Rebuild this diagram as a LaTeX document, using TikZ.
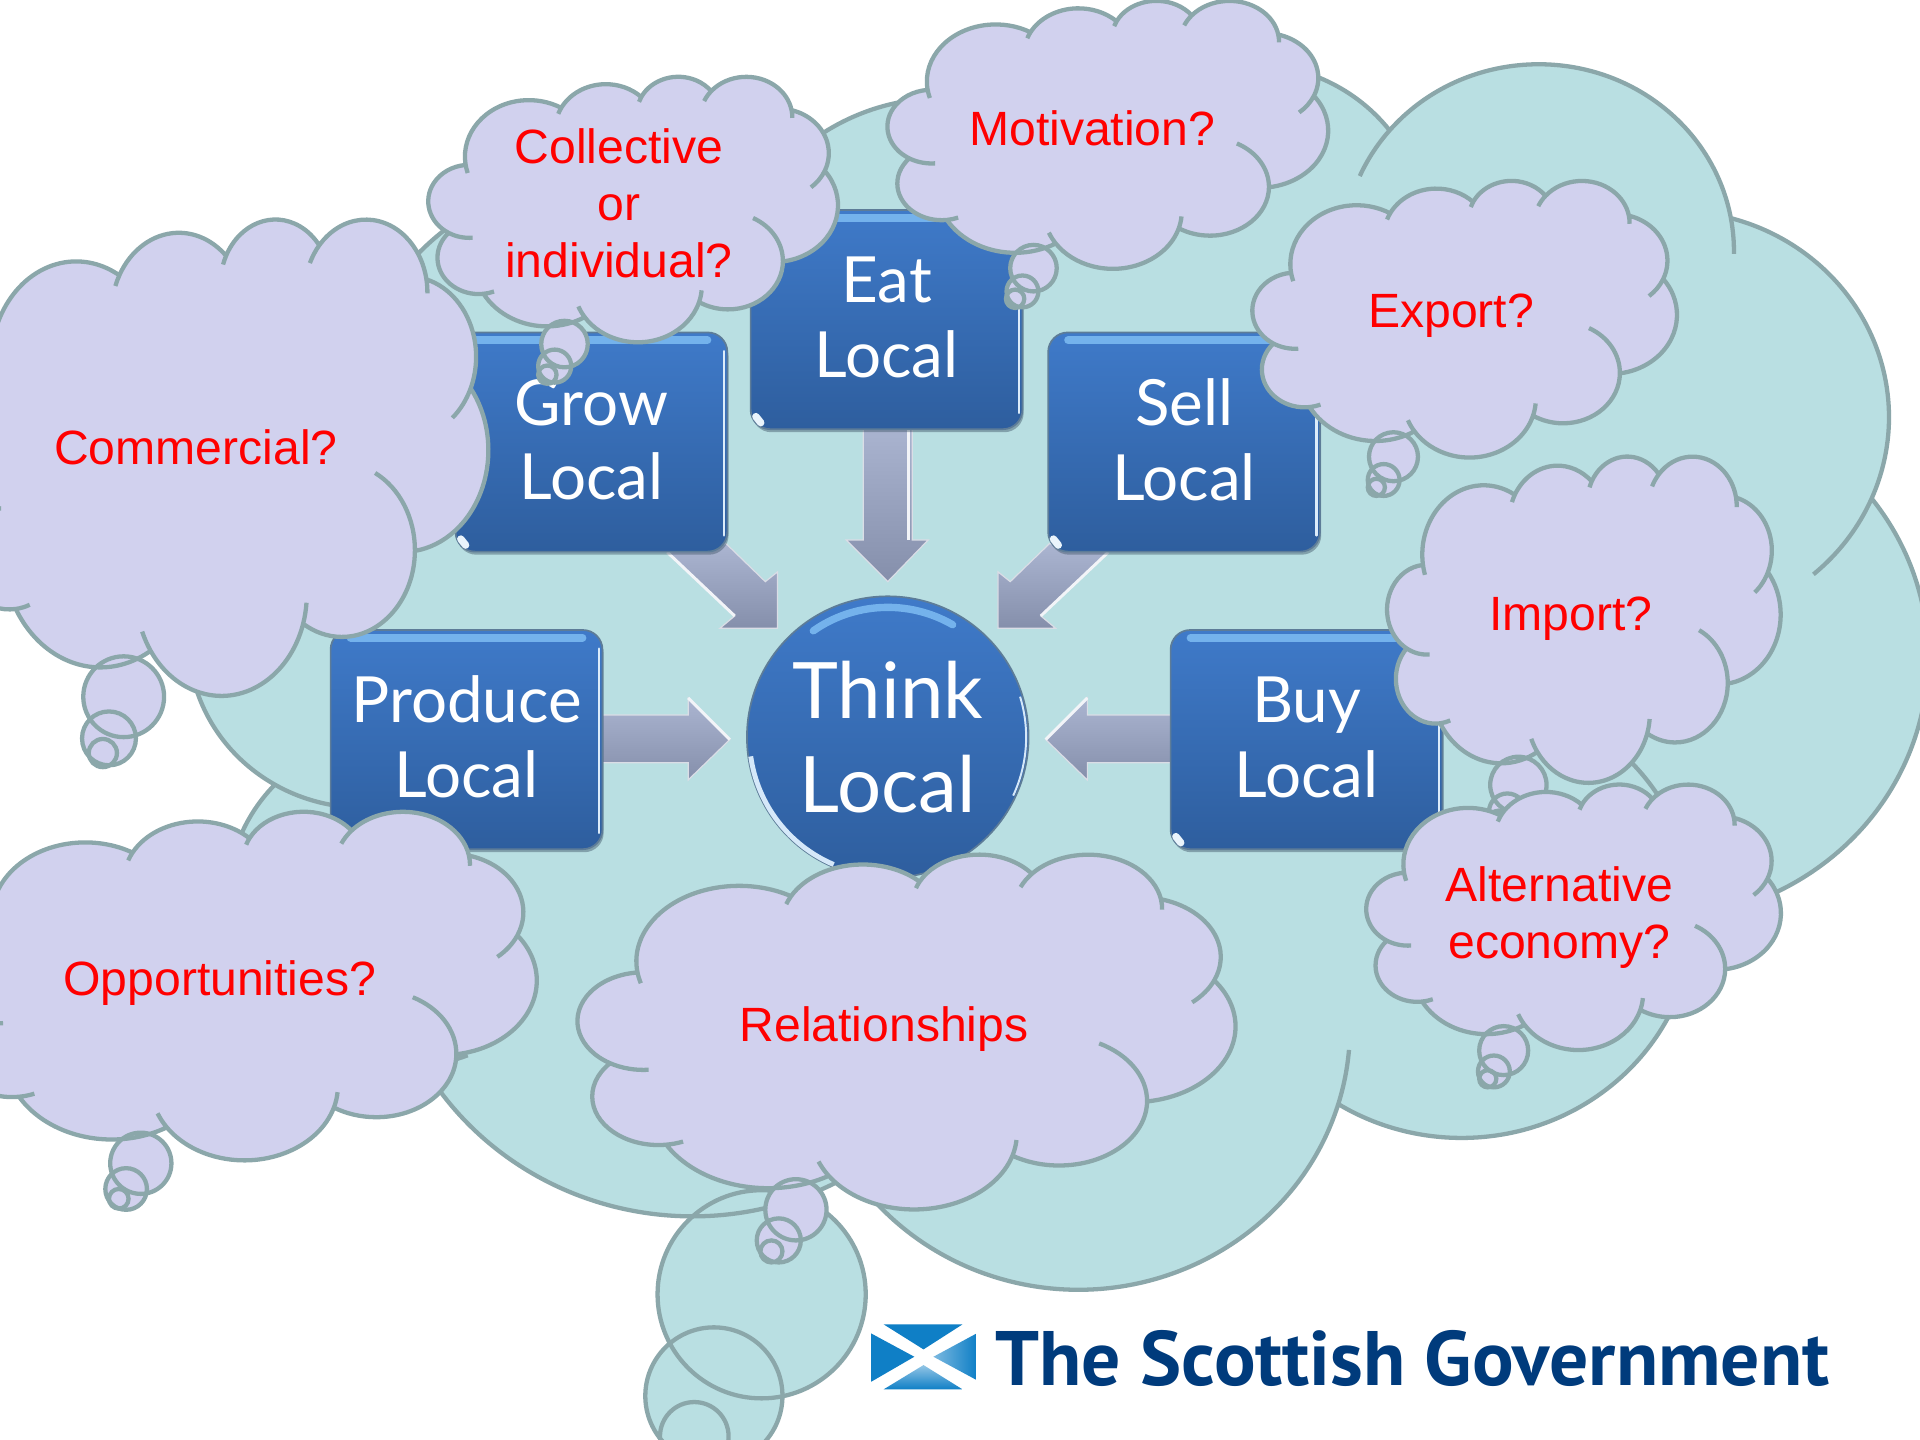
\documentclass[tikz,border=0pt]{standalone}
\usepackage{fontspec}
\setmainfont{Liberation Sans}
\newfontfamily\boxfont{Lato}
\newfontfamily\logofont{PT Sans}
\usetikzlibrary{calc}
\definecolor{edgec}{HTML}{8BA7AA}
\definecolor{tealc}{HTML}{B9DFE2}
\definecolor{lavc}{HTML}{D1D1EE}
\definecolor{boxtop}{HTML}{3F7AC9}
\definecolor{boxbot}{HTML}{2E5E9E}
\definecolor{boxline}{HTML}{5D7C98}
\definecolor{glow}{HTML}{74B2EC}
\definecolor{arrtop}{HTML}{ABB5D1}
\definecolor{arrbot}{HTML}{858FAB}
\definecolor{navy}{HTML}{003B7C}
\definecolor{flagb}{HTML}{0F7FC6}
% --- the cloud outline, built once
\def\cloudF{}\def\cloudS{}
\newcommand\addarc[6]{%
 \pgfmathsetmacro\rW{#1/1000}\pgfmathsetmacro\rH{#2/1000}%
 \pgfmathsetmacro\tA{atan2(#1*sin(#3-#5),#2*cos(#3-#5))}%
 \pgfmathsetmacro\tB{atan2(#1*sin(#3),#2*cos(#3))}%
 \pgfmathsetmacro\tC{atan2(#1*sin(#3+#4),#2*cos(#3+#4))}%
 \pgfmathsetmacro\tD{atan2(#1*sin(#3+#4+#6),#2*cos(#3+#4+#6))}%
 \pgfmathsetmacro\dA{mod(\tB-\tA+720,360)}%
 \pgfmathsetmacro\dB{mod(\tC-\tB+720,360)}%
 \pgfmathsetmacro\dC{mod(\tD-\tC+720,360)}%
 \xdef\cloudF{\cloudF arc[x radius=\rW,y radius=\rH,start angle=\tB,delta angle=\dB]}%
 \ifdim #5pt>0pt
 \xdef\cloudS{\cloudS arc[x radius=\rW,y radius=\rH,start angle=\tB,delta angle=-\dA] arc[x radius=\rW,y radius=\rH,start angle=\tA,delta angle=\dA]}%
 \fi
 \xdef\cloudS{\cloudS arc[x radius=\rW,y radius=\rH,start angle=\tB,delta angle=\dB]}%
 \ifdim #6pt>0pt
 \xdef\cloudS{\cloudS arc[x radius=\rW,y radius=\rH,start angle=\tC,delta angle=\dC] arc[x radius=\rW,y radius=\rH,start angle=\tD,delta angle=-\dC]}%
 \fi
}
\addarc{6753}{9190}{-190.49}{123.78}{12}{0}
\addarc{5333}{7267}{-144.10}{89.95}{10}{0}
\addarc{4365}{5945}{-145.81}{99.72}{10}{0}
\addarc{4857}{6595}{-130.99}{117.24}{18.2}{14.86}
\addarc{5333}{7273}{-78.71}{109.03}{0}{27.75}
\addarc{6775}{9220}{-46.27}{130.27}{0}{0}
\addarc{5785}{7867}{0.63}{114.03}{70}{0}
\addarc{6752}{9215}{22.45}{115.17}{16}{14.08}
\addarc{7720}{10543}{66.24}{75.71}{0}{0}
\addarc{4360}{5918}{-274.94}{146.74}{11.4}{0}
\addarc{4345}{5945}{-246.83}{152.52}{26.4}{0}
\newcommand\cloudshape[5]{%
 \begin{scope}[shift={(#2,#3)},x=1cm,y=1cm,xscale=#4*0.00040679,yscale=-#5*0.00040679]
  \fill[#1] (3.9,14.37) \cloudF -- cycle;
 \end{scope}}
\newcommand\cloudline[4]{%
 \begin{scope}[shift={(#1,#2)},x=1cm,y=1cm,xscale=#3*0.00040679,yscale=-#4*0.00040679]
  \draw[cloudedge] (3.9,14.37) \cloudS -- cycle;
 \end{scope}}
\newcommand\thoughtcloud[8]{%
 % #1 fill #2 x #3 y #4 w #5 h  #6,#7,#8 = bubbles {x/y/r}
 \cloudshape{#1}{#2}{#3}{#4}{#5}%
 \foreach \bx/\by/\br in {#6,#7,#8}{\fill[#1] (\bx,\by) circle[radius=\br];}%
 \cloudline{#2}{#3}{#4}{#5}%
 \foreach \bx/\by/\br in {#6,#7,#8}{\draw[cloudedge] (\bx,\by) circle[radius=\br];}%
}
\tikzset{
 cloudedge/.style={draw=edgec,line width=1.75pt},
 qtext/.style={text=red,font=\fontsize{19.65}{23.25}\selectfont,align=center,inner sep=0pt},
 bluebox/.style={rounded corners=8pt,draw=boxline,line width=.7pt,top color=boxtop,bottom color=boxbot,
   minimum width=111pt,minimum height=89.5pt,inner sep=0pt},
 boxtext/.style={inner sep=0pt,text=white,align=center,font=\boxfont\fontsize{26}{30.5}\selectfont},
 blueball/.style={circle,draw=boxline,line width=.7pt,top color=boxtop,bottom color=boxbot,
   minimum size=115pt,inner sep=0pt,text=white,align=center,
   font=\boxfont\fontsize{31.8}{38}\selectfont},
 blockarrow/.style={top color=arrtop,bottom color=arrbot,draw=white!70!arrbot,line width=.5pt},
 arrowshine/.style={draw=white!85!arrtop,line width=1.2pt},
}
% #1 name, #2 x, #3 y, #4 text
\newcommand\blueboxnode[4]{%
 \fill[boxline!70!black,opacity=.45,rounded corners=8pt] (#2-110,#3-86) rectangle (#2+112,#3+92);
 \node[bluebox] (#1) at (#2,#3) {};
 \draw[glow,line width=3.2pt,line cap=round] ([shift={(17,7)}]#1.north west) -- ([shift={(-17,7)}]#1.north east);
 \draw[white!75!glow,line width=1.1pt,line cap=round] ([shift={(-3.5,16)}]#1.north east) -- ([shift={(-3.5,-14)}]#1.south east);
 \draw[white!85!glow,line width=3pt,line cap=round] ([shift={(5,-11)}]#1.south west) -- ([shift={(9,-6)}]#1.south west);
 \node[boxtext] (#1 text) at (#2,#3-2) {#4};
}
\begin{document}
\begin{tikzpicture}[x=0.5pt,y=-0.5pt]
\path[use as bounding box,fill=white] (0,0) rectangle (1568,1176);
\clip (0,0) rectangle (1568,1176);
% big background cloud
\thoughtcloud{tealc}{155}{49}{1401}{988}{622/1057/85}{583/1140/56}{567/1173/28}
% arrows
\path[blockarrow] (705,345) -- (745,345) -- (745,441) -- (758,441) -- (725,475) -- (691,441) -- (705,441) -- cycle;
\path[arrowshine] (742,350) -- (742,441);
\path[blockarrow] (545,451) -- (593,444) -- (625,475) -- (635,467) -- (635,513) -- (588,513) -- (600,503) -- cycle;
\path[arrowshine] (545,451) -- (600,503);
\path[blockarrow] (905,451) -- (857,444) -- (825,475) -- (815,467) -- (815,513) -- (862,513) -- (850,503) -- cycle;
\path[arrowshine] (905,451) -- (850,503);
\path[blockarrow] (488,584) -- (562,584) -- (562,570) -- (596,604) -- (562,637) -- (562,623) -- (488,623) -- cycle;
\path[arrowshine] (562,570) -- (596,604);
\path[blockarrow] (960,584) -- (888,584) -- (888,570) -- (854,604) -- (888,637) -- (888,623) -- (960,623) -- cycle;
\path[arrowshine] (888,570) -- (854,604);
% blue boxes
\blueboxnode{eat}{724}{261}{Eat\\Local}
\blueboxnode{grow}{483}{361}{Grow\\Local}
\blueboxnode{sell}{967}{361}{Sell\\Local}
\blueboxnode{produce}{381}{604}{Produce\\Local}
\blueboxnode{buy}{1067}{604}{Buy\\Local}
\node[blueball] (think) at (725,602) {Think\\Local};
\draw[glow,line width=3pt,line cap=round] (think.center) ++(-125:106) arc[start angle=-125,end angle=-60,radius=106];
\draw[white!70!glow,line width=2pt] (think.center) ++(172:113) arc[start angle=172,end angle=113,radius=113];
\draw[white!70!glow,line width=.8pt] (think.center) ++(-17:113) arc[start angle=-17,end angle=25,radius=113];
% question clouds
\thoughtcloud{lavc}{-50}{662}{482}{281}{115/950/25}{103/971/17}{97/979/8}
\thoughtcloud{lavc}{-47}{178}{440}{384}{101/569/33}{89/603/22}{84/615/11.5}
\thoughtcloud{lavc}{350}{62}{330}{214}{461/281/19}{453/299/13.5}{447/306/7.5}
\thoughtcloud{lavc}{725}{0}{355}{216}{844/219/19}{835/238/13}{829/244/7.5}
\thoughtcloud{lavc}{1023}{147}{342}{223}{1138/373/20}{1130/392/13}{1124/398/7}
\thoughtcloud{lavc}{1133}{372}{317}{263}{1240/641/23}{1231/663/15}{1224/670/8}
\thoughtcloud{lavc}{1116}{640}{334}{214}{1228/858/20}{1220/875/13}{1215/881/7}
\thoughtcloud{lavc}{472}{697}{530}{286}{650/988/25}{636/1013/18}{630/1022/9}
\node[qtext] (qcoll) at (505.5,166) {Collective\\or\\individual?};
\node[qtext] (qmot) at (892,105) {Motivation?};
\node[qtext] (qexp) at (1185,258) {Export?};
\node[qtext] (qimp) at (1283,505) {Import?};
\node[qtext] (qcom) at (160,365) {Commercial?};
\node[qtext] (qopp) at (179.5,803) {Opportunities?};
\node[qtext] (qrel) at (722,840) {Relationships};
\node[qtext] (qalt) at (1273.5,749) {Alternative\\economy?};
% logo
\fill[flagb] (721.7,1081.6) -- (786,1081.6) -- (754.2,1102) -- cycle;
\fill[flagb] (711.5,1089) -- (746.7,1108) -- (711.5,1128.4) -- cycle;
\shade[left color=white!45!flagb,right color=flagb] (797.5,1089) -- (762.3,1108) -- (797.5,1127) -- cycle;
\shade[top color=white!55!flagb,bottom color=flagb] (721.7,1134.6) -- (754.2,1114.8) -- (786,1134.6) -- cycle;
\node[inner sep=0pt,text=navy] (logo) at (1153.5,1109.5) {\resizebox{340.5pt}{22.5pt}{\logofont\bfseries The Scottish Government}};
\end{tikzpicture}
\end{document}
